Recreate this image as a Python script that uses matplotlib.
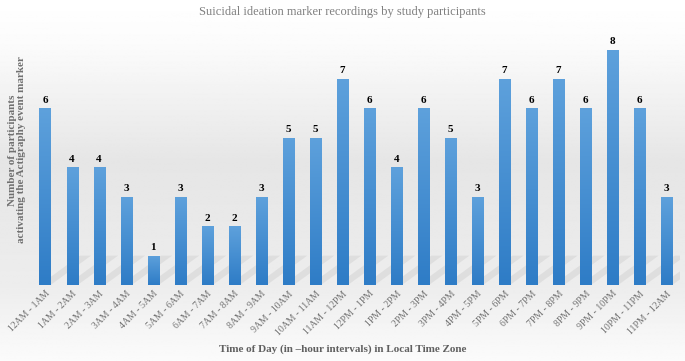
import numpy as np
import matplotlib
matplotlib.use("Agg")
import matplotlib.pyplot as plt
from matplotlib.colors import LinearSegmentedColormap
from matplotlib.patches import Polygon

categories = ["12AM - 1AM", "1AM - 2AM", "2AM - 3AM", "3AM - 4AM", "4AM - 5AM", "5AM - 6AM",
              "6AM - 7AM", "7AM - 8AM", "8AM - 9AM", "9AM - 10AM", "10AM - 11AM", "11AM - 12PM",
              "12PM - 1PM", "1PM - 2PM", "2PM - 3PM", "3PM - 4PM", "4PM - 5PM", "5PM - 6PM",
              "6PM - 7PM", "7PM - 8PM", "8PM - 9PM", "9PM - 10PM", "10PM - 11PM", "11PM - 12AM"]
values = [6, 4, 4, 3, 1, 3, 2, 2, 3, 5, 5, 7, 6, 4, 6, 5, 3, 7, 6, 7, 6, 8, 6, 3]

title = "Suicidal ideation marker recordings by study participants"
ylabel = "Number of participants\nactivating the Actigraphy event marker"
xlabel = "Time of Day (in \u2013hour intervals) in Local Time Zone"

serif = ["Liberation Serif", "DejaVu Serif"]

fig = plt.figure(figsize=(6.85, 3.61), dpi=100)

# background gradient
bg = fig.add_axes([0, 0, 1, 1], zorder=-10)
bg.axis("off")
yy = np.linspace(0, 1, 300)
shade = np.interp(yy, [0, 0.12, 0.45, 0.8, 1.0], [1.0, 0.985, 0.90, 0.93, 0.985])
img = np.repeat(shade[:, None], 2, axis=1)
bg.imshow(img, cmap="gray", vmin=0, vmax=1, aspect="auto", extent=[0, 1, 0, 1], origin="upper")
bg.set_xlim(0, 1); bg.set_ylim(0, 1)

ax = fig.add_axes([0.046, 0.2105, 0.947, 0.693])
ax.patch.set_alpha(0)
x = np.arange(len(values))
width = 0.41
bars = ax.bar(x, values, width=width, color="none", zorder=3)
ax.set_xlim(-0.5, len(values) - 0.5)
ax.set_ylim(0, 8.5)

cmap = LinearSegmentedColormap.from_list("b", ["#2e7cc6", "#5ea1dc"])
grad = np.linspace(0, 1, 256)[:, None]
for b in bars:
    x0, w, h = b.get_x(), b.get_width(), b.get_height()
    im = ax.imshow(grad, cmap=cmap, aspect="auto", origin="lower",
                   extent=[x0, x0 + w, 0, h], zorder=3)
    im.set_clip_path(b)
    # decorative shadow
    sh = Polygon([[x0, 0], [x0 + w, 0], [x0 + w + 1.5, 1.0], [x0 + 1.5, 1.0]],
                 closed=True, facecolor="#808080", alpha=0.13, edgecolor="none", zorder=2)
    ax.add_patch(sh)
    ax.text(x0 + w / 2, h + 0.12, f"{int(h)}", ha="center", va="bottom",
            fontsize=8, fontweight="bold", family=serif, color="black", zorder=4)

for s in ax.spines.values():
    s.set_visible(False)
ax.set_yticks([])
ax.set_xticks(x)
ax.set_xticklabels(categories, rotation=45, ha="right", rotation_mode="anchor",
                   fontsize=7, family=serif, color="#707070")
ax.tick_params(axis="x", length=0, pad=3)

fig.text(17 / 685, 1 - 150 / 361, ylabel, rotation=90, ha="center", va="center",
         fontsize=8, fontweight="bold", family=serif, color="#707070", linespacing=1.1,
         multialignment="center")
fig.text(0.5, 0.02, xlabel, ha="center", va="bottom", fontsize=8, fontweight="bold",
         family=serif, color="#606060")
fig.text(0.5, 0.968, title, ha="center", va="center", fontsize=9, family=serif, color="#808080")

fig.savefig("out.png", dpi=100)
